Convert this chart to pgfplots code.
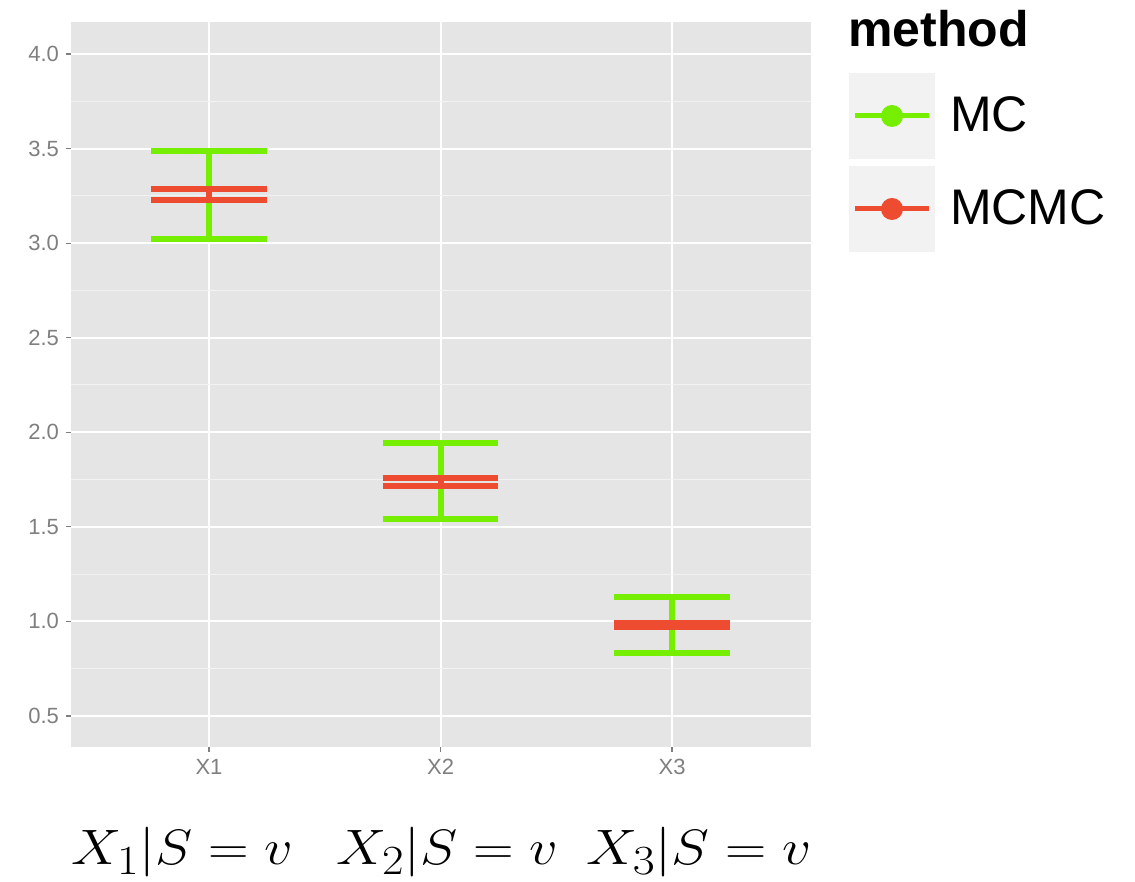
\documentclass[border=0pt]{standalone}
\usepackage{pgfplots}
\usepackage{pgfplotstable}
\pgfplotsset{compat=1.18}
\usepackage{fontspec}
\setmainfont{Liberation Sans}
\definecolor{mcgreen}{RGB}{118,238,0}
\definecolor{mcmcred}{RGB}{238,76,48}
\definecolor{panel}{RGB}{229,229,229}
\definecolor{minorgrid}{RGB}{242,242,242}
\definecolor{ticklab}{RGB}{127,127,127}
\definecolor{legbg}{RGB}{242,242,242}
% error bars as segments: cap, stem, cap (x = category +- 0.25)
\pgfplotstableread{
x y
0.75 3.487
1.25 3.487
nan nan
1 3.487
1 3.022
nan nan
0.75 3.022
1.25 3.022
nan nan
1.75 1.943
2.25 1.943
nan nan
2 1.943
2 1.541
nan nan
1.75 1.541
2.25 1.541
nan nan
2.75 1.129
3.25 1.129
nan nan
3 1.129
3 0.833
nan nan
2.75 0.833
3.25 0.833
}\mcdata
\pgfplotstableread{
x y
0.75 3.286
1.25 3.286
nan nan
1 3.286
1 3.228
nan nan
0.75 3.228
1.25 3.228
nan nan
1.75 1.758
2.25 1.758
nan nan
2 1.758
2 1.716
nan nan
1.75 1.716
2.25 1.716
nan nan
2.75 0.989
3.25 0.989
nan nan
3 0.989
3 0.973
nan nan
2.75 0.973
3.25 0.973
}\mcmcdata
\begin{document}
\begin{tikzpicture}
\useasboundingbox (-35.5pt,-67.5pt) rectangle (532pt,373.5pt);
\begin{axis}[
  at={(0pt,0pt)}, anchor=south west,
  scale only axis, width=370pt, height=362.5pt,
  xmin=0.404, xmax=3.6, ymin=0.336, ymax=4.169,
  unbounded coords=jump,
  axis background/.style={fill=panel},
  axis line style={draw=none},
  xtick={1,2,3}, xticklabels={X1,X2,X3},
  ytick={0.5,1,1.5,2,2.5,3,3.5,4},
  minor ytick={0.75,1.25,1.75,2.25,2.75,3.25,3.75},
  xmajorgrids, ymajorgrids, yminorgrids,
  major grid style={white, line width=1pt},
  minor grid style={minorgrid, line width=0.5pt},
  tick align=outside, major tick length=2.5pt, minor tick length=0pt,
  xtick pos=bottom, ytick pos=left,
  tick style={ticklab, line width=0.6pt},
  ticklabel style={font=\fontsize{11}{13}\selectfont, text=ticklab},
  yticklabel style={/pgf/number format/.cd, fixed, fixed zerofill, precision=1, assume math mode=true},
  legend style={at={(1,1)}, anchor=north west, xshift=19pt, yshift=-25.5pt,
    draw=none, fill=none, inner sep=0pt, outer sep=0pt,
    row sep=3.5pt, column sep=7.5pt,
    nodes={inner sep=0pt, anchor=west},
    font=\fontsize{25}{30}\selectfont},
  legend cell align=left,
]
\addplot[mcgreen, line width=3pt, mark=none,
  legend image code/.code={
  \path[fill=legbg, draw=none] (0pt,-21.5pt) rectangle (43pt,21.5pt);
  \draw[mcgreen, line width=2.5pt] (3pt,0pt) -- (40pt,0pt);
  \path[fill=mcgreen, draw=none] (21.5pt,0pt) circle (5.5pt);}]
  table[x=x, y=y] {\mcdata};
\addlegendentry{MC}
\addplot[mcmcred, line width=3pt, mark=none,
  legend image code/.code={
  \path[fill=legbg, draw=none] (0pt,-21.5pt) rectangle (43pt,21.5pt);
  \draw[mcmcred, line width=2.5pt] (3pt,0pt) -- (40pt,0pt);
  \path[fill=mcmcred, draw=none] (21.5pt,0pt) circle (5.5pt);}]
  table[x=x, y=y] {\mcmcdata};
\addlegendentry{MCMC}
\end{axis}
\node[anchor=base west, inner sep=0pt, font=\bfseries\fontsize{25}{30}\selectfont] at (388.5pt,350pt) {method};
\node[anchor=base west, inner sep=0pt, font=\fontsize{29}{35}\selectfont, xscale=1.13] at (0pt,-59pt) {$X_1|S=v$};
\node[anchor=base west, inner sep=0pt, font=\fontsize{29}{35}\selectfont, xscale=1.13] at (132.5pt,-59pt) {$X_2|S=v$};
\node[anchor=base west, inner sep=0pt, font=\fontsize{29}{35}\selectfont, xscale=1.15] at (257.5pt,-59pt) {$X_3|S=v$};
\end{tikzpicture}
\end{document}
